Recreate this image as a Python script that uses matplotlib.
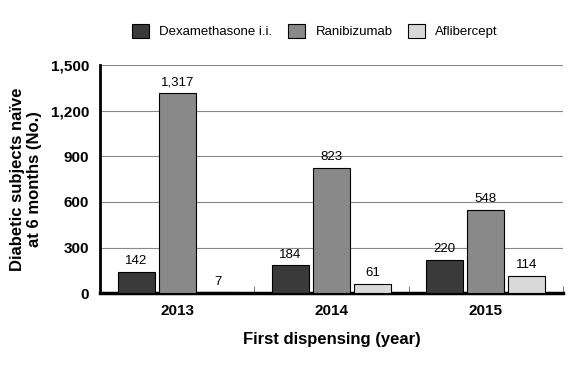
import matplotlib
matplotlib.use('Agg')
import matplotlib.pyplot as plt
import numpy as np

plt.rcParams['font.family'] = ['Liberation Sans', 'DejaVu Sans']

years = ['2013', '2014', '2015']
series = ['Dexamethasone i.i.', 'Ranibizumab', 'Aflibercept']
dexamethasone = [142, 184, 220]
ranibizumab = [1317, 823, 548]
aflibercept = [7, 61, 114]
colors = ['#3a3a3a', '#898989', '#d9d9d9']

fig = plt.figure(figsize=(5.76, 3.66), dpi=100)
ax = fig.add_axes([0.174, 0.199, 0.803, 0.623])

x = np.arange(len(years))
width = 0.24
step = 0.266
for i, (vals, name) in enumerate(zip([dexamethasone, ranibizumab, aflibercept], series)):
    pos = x + (i - 1) * step
    ax.bar(pos, vals, width, color=colors[i], edgecolor='black', linewidth=0.8, label=name, zorder=3)
    for p, v in zip(pos, vals):
        ax.text(p, v + 30, f'{v:,}', ha='center', va='bottom', fontsize=9.5)

ax.set_xlim(-0.5, 2.5)
ax.set_ylim(0, 1500)
ax.set_yticks([0, 300, 600, 900, 1200, 1500])
ax.set_yticklabels(['0', '300', '600', '900', '1,200', '1,500'], fontweight='bold', fontsize=11)
ax.set_xticks(x)
ax.set_xticklabels(years, fontweight='bold', fontsize=11)
ax.set_xticks([-0.5, 0.5, 1.5, 2.5], minor=True)
ax.tick_params(axis='x', which='major', length=0, pad=8)
ax.tick_params(axis='x', which='minor', length=5, direction='in', color='#666666')
ax.tick_params(axis='y', length=0, pad=8)
ax.yaxis.grid(True, color='#888888', linewidth=0.8, zorder=0)

for s in ['top', 'right']:
    ax.spines[s].set_visible(False)
ax.spines['left'].set_linewidth(2)
ax.spines['bottom'].set_linewidth(2.5)

ax.set_xlabel('First dispensing (year)', fontweight='bold', fontsize=12, labelpad=10)
ax.set_ylabel('Diabetic subjects naïve\nat 6 months (No.)', fontweight='bold', fontsize=12, labelpad=6)

fig.legend(loc='upper right', bbox_to_anchor=(0.885, 0.968), ncol=3, frameon=False,
           fontsize=9.5, handlelength=1.3, handleheight=1.3, columnspacing=1.15, handletextpad=0.8)

plt.savefig('out.png', dpi=100)
